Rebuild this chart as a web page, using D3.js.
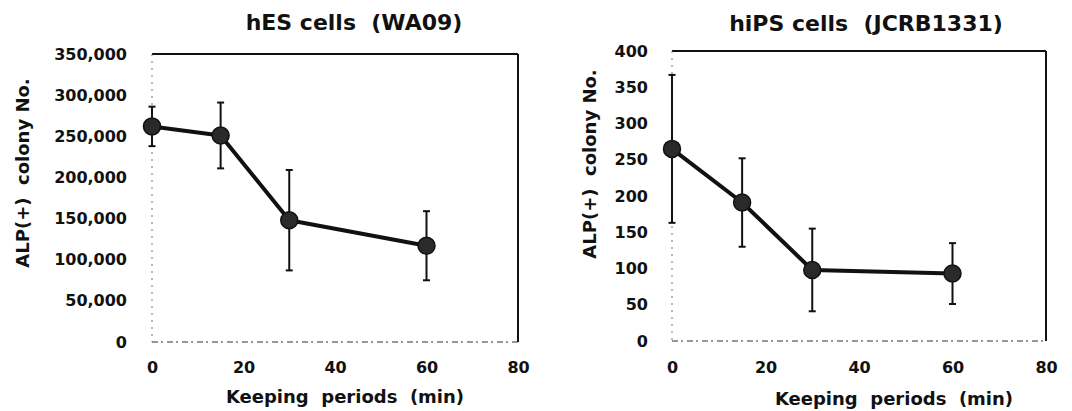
<!DOCTYPE html>
<html><head><meta charset="utf-8">
<script src="https://cdn.jsdelivr.net/npm/d3@7"></script>
<style>
html,body{margin:0;padding:0;background:#fff;}
svg{display:block;}
text{font-family:"DejaVu Sans",Verdana,sans-serif;font-weight:bold;fill:#111;white-space:pre;}
</style></head>
<body>
<script>
// ---- data ----
const minutes = [0, 15, 30, 60];
const xTicks = [0, 20, 40, 60, 80];

const esTitle = "hES cells  (WA09)";
const esMean = [262000, 251000, 148000, 117000];
const esErr  = [24000, 40000, 61000, 42000];
const esYTicks = [0, 50000, 100000, 150000, 200000, 250000, 300000, 350000];

const ipsTitle = "hiPS cells  (JCRB1331)";
const ipsMean = [265, 191, 98, 93];
const ipsErr  = [102, 61, 57, 42];
const ipsYTicks = [0, 50, 100, 150, 200, 250, 300, 350, 400];

const yLabel = "ALP(+)  colony No.";
const xLabel = "Keeping  periods  (min)";

const W = 1072, H = 411;
const svg = d3.select("body").append("svg").attr("width", W).attr("height", H);

function panel(cfg) {
  const x = d3.scaleLinear().domain([0, 80]).range([cfg.left, cfg.right]);
  const y = d3.scaleLinear().domain([0, cfg.yMax]).range([cfg.bottom, cfg.top]);
  const g = svg.append("g");

  // frame: top & right solid, left dotted, bottom dashed
  g.append("line").attr("x1", cfg.left).attr("x2", cfg.right).attr("y1", cfg.top).attr("y2", cfg.top)
    .attr("stroke", "#111").attr("stroke-width", 2);
  g.append("line").attr("x1", cfg.right).attr("x2", cfg.right).attr("y1", cfg.top).attr("y2", cfg.bottom)
    .attr("stroke", "#111").attr("stroke-width", 2);
  g.append("line").attr("x1", cfg.left).attr("x2", cfg.left).attr("y1", cfg.top).attr("y2", cfg.bottom)
    .attr("stroke", "#777").attr("stroke-width", 1).attr("stroke-dasharray", "2,5");
  g.append("line").attr("x1", cfg.left).attr("x2", cfg.right).attr("y1", cfg.bottom).attr("y2", cfg.bottom)
    .attr("stroke", "#333").attr("stroke-width", 1.2).attr("stroke-dasharray", "6,3,2,4");

  // y axis
  const ya = d3.axisLeft(y).tickValues(cfg.yTicks).tickSize(0).tickPadding(cfg.yPad)
    .tickFormat(cfg.yFmt);
  const yg = g.append("g").attr("transform", `translate(${cfg.left},0)`).call(ya);
  yg.select(".domain").remove();
  yg.selectAll("text").style("font-size", "16px").attr("fill", "#111");

  // x axis
  const xa = d3.axisBottom(x).tickValues(xTicks).tickSize(0).tickPadding(cfg.xPad);
  const xg = g.append("g").attr("transform", `translate(0,${cfg.bottom})`).call(xa);
  xg.select(".domain").remove();
  xg.selectAll("text").style("font-size", "16px").attr("fill", "#111");

  // titles
  g.append("text").attr("x", cfg.titleX).attr("y", cfg.titleY).attr("text-anchor", "middle")
    .style("font-size", "22px").text(cfg.title);
  g.append("text").attr("x", cfg.xLabX).attr("y", cfg.xLabY).attr("text-anchor", "middle")
    .style("font-size", "18px").text(xLabel);
  g.append("text").attr("transform", `translate(${cfg.yLabX},${cfg.yLabY}) rotate(-90)`)
    .attr("text-anchor", "middle").style("font-size", "18px").text(yLabel);

  const data = minutes.map((m, i) => ({ m, v: cfg.mean[i], e: cfg.err[i] }));

  // error bars
  const eb = g.append("g").attr("stroke", "#111").attr("stroke-width", 2);
  data.forEach(d => {
    eb.append("line").attr("x1", x(d.m)).attr("x2", x(d.m)).attr("y1", y(d.v + d.e)).attr("y2", y(d.v - d.e));
    [d.v + d.e, d.v - d.e].forEach(v => {
      eb.append("line").attr("x1", x(d.m) - 3.5).attr("x2", x(d.m) + 3.5).attr("y1", y(v)).attr("y2", y(v));
    });
  });

  // line
  g.append("path").datum(data)
    .attr("d", d3.line().x(d => x(d.m)).y(d => y(d.v)))
    .attr("fill", "none").attr("stroke", "#111").attr("stroke-width", 4).attr("stroke-linejoin", "round");

  // markers
  g.selectAll("circle.pt").data(data).join("circle").attr("class", "pt")
    .attr("cx", d => x(d.m)).attr("cy", d => y(d.v)).attr("r", 8.5)
    .attr("fill", "#2a2a2a").attr("stroke", "#111").attr("stroke-width", 1.5);
}

panel({
  title: esTitle, mean: esMean, err: esErr, yTicks: esYTicks, yMax: 350000,
  yFmt: d3.format(","),
  left: 152, right: 518, top: 54, bottom: 342,
  yPad: 25, xPad: 20,
  titleX: 354, titleY: 30, xLabX: 345, xLabY: 403, yLabX: 29, yLabY: 173
});
panel({
  title: ipsTitle, mean: ipsMean, err: ipsErr, yTicks: ipsYTicks, yMax: 400,
  yFmt: d3.format("d"),
  left: 672, right: 1046, top: 51, bottom: 341,
  yPad: 24, xPad: 21,
  titleX: 866, titleY: 31, xLabX: 894, xLabY: 405, yLabX: 596, yLabY: 164
});
</script>
</body></html>
